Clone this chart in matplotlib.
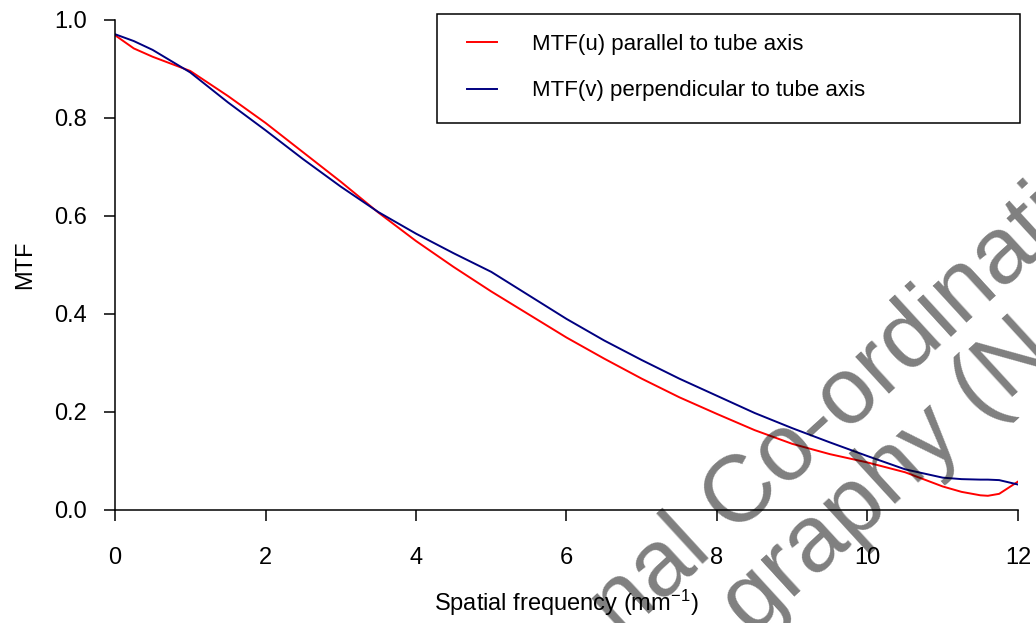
import numpy as np
import matplotlib
matplotlib.use("Agg")
import matplotlib.pyplot as plt
from matplotlib.patches import Rectangle

"""
MTF of the tube, parallel and perpendicular to the tube axis
"""

plt.rcParams['font.family'] = ['Liberation Sans', 'DejaVu Sans']
plt.rcParams['mathtext.default'] = 'regular'

# spatial frequency (mm^-1)
freq = [0, 0.25, 0.5, 1, 1.5, 2, 2.5, 3, 3.5, 4, 4.5, 5, 5.5, 6, 6.5, 7,
        7.5, 8, 8.5, 9, 9.5, 10, 10.5, 11, 11.25, 11.5, 11.6, 11.75, 12]

# MTF(u), parallel to tube axis
mtf_u = [0.969, 0.942, 0.925, 0.896, 0.845, 0.790, 0.730, 0.670, 0.607,
         0.549, 0.496, 0.446, 0.399, 0.352, 0.309, 0.268, 0.230, 0.196,
         0.163, 0.135, 0.114, 0.097, 0.077, 0.048, 0.037, 0.030, 0.029,
         0.033, 0.058]

# MTF(v), perpendicular to tube axis
mtf_v = [0.971, 0.957, 0.939, 0.893, 0.832, 0.775, 0.716, 0.660, 0.608,
         0.564, 0.524, 0.486, 0.438, 0.390, 0.346, 0.306, 0.268, 0.233,
         0.198, 0.167, 0.138, 0.110, 0.083, 0.066, 0.063, 0.062, 0.062,
         0.061, 0.052]

labels = ["MTF(u) parallel to tube axis", "MTF(v) perpendicular to tube axis"]

fig = plt.figure(figsize=(10.36, 6.23), dpi=100)
ax = fig.add_axes([115/1036, 1 - 510/623, 903/1036, 490/623])

ax.plot(freq, mtf_u, color='#ff0000', lw=1.4, label=labels[0])
ax.plot(freq, mtf_v, color='#000080', lw=1.4, label=labels[1])

ax.set_xlim(0, 12)
ax.set_ylim(0, 1.0)
ax.set_xticks(np.arange(0, 13, 2))
ax.set_yticks(np.arange(0, 1.01, 0.2))
ax.set_yticklabels(['0.0', '0.2', '0.4', '0.6', '0.8', '1.0'])

for s in ['top', 'right']:
    ax.spines[s].set_visible(False)
for s in ['left', 'bottom']:
    ax.spines[s].set_linewidth(1.1)
ax.tick_params(axis='both', length=8, width=1.1, labelsize=17)
ax.tick_params(axis='y', pad=12)
ax.tick_params(axis='x', pad=19)

ax.set_xlabel('Spatial frequency (mm$^{-1}$)', fontsize=17, labelpad=13)
ax.set_ylabel('MTF', fontsize=17, labelpad=13)

# legend box
ax.add_patch(Rectangle((0.3566, 0.7898), 0.6456, 0.2224, transform=ax.transAxes,
                       facecolor='white', edgecolor='black', lw=1.1,
                       clip_on=False, zorder=4))
ax.legend(loc='upper left', bbox_to_anchor=(0.3898, 0.9714), frameon=False,
          fontsize=16, borderpad=0, borderaxespad=0, handlelength=1.35,
          handletextpad=1.58, labelspacing=1.14).set_zorder(5)

# watermark
fig.text(0.600, -0.0257, 'nal Co-ordinati', fontsize=68, rotation=42.5,
         rotation_mode='anchor', ha='left', va='baseline',
         color='black', alpha=0.5, zorder=10)
fig.text(0.725, -0.021, 'graphy (N', fontsize=68, rotation=42.5,
         rotation_mode='anchor', ha='left', va='baseline',
         color='black', alpha=0.5, zorder=10)

fig.savefig('out.png', dpi=100)
